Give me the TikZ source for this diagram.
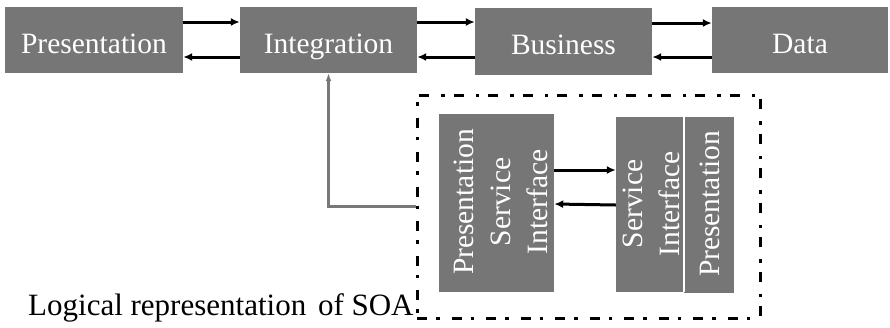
\documentclass[tikz,border=0pt]{standalone}
\usepackage{fontspec}
\setmainfont{Liberation Serif}[Ligatures=TeX]
\usepackage{graphicx}
\usetikzlibrary{arrows.meta}
\definecolor{boxgray}{RGB}{118,118,118}
\definecolor{linkgray}{RGB}{120,120,120}
% vertical multi-line label
\newcommand{\vstack}[1]{\rotatebox{90}{\begin{tabular}{@{}c@{}}#1\end{tabular}}}
\begin{document}
\begin{tikzpicture}[x=1pt,y=-1pt,
  labelfont/.style={font=\fontsize{29.5}{37}\selectfont},
  tier/.style={fill=boxgray, text=white, inner sep=0pt, labelfont},
  toptier/.style={tier, text height=30pt, text depth=4pt},
  vlabel/.style={text=white, inner sep=0pt, labelfont},
  flow/.style={line width=3pt, -{Latex[length=9pt,width=8pt]}},
  uplink/.style={draw=linkgray, line width=2.2pt, -{Latex[length=8pt,width=6pt]}},
  soabox/.style={draw, line width=3pt, dash pattern=on 10pt off 9pt on 3.5pt off 12pt}]
\useasboundingbox (0,0) rectangle (890,327);

% top row of tiers
\node[toptier, minimum width=178pt, minimum height=66pt] (pres)  at (94,40)    {Presentation};
\node[toptier, minimum width=177pt, minimum height=66pt] (integ) at (328.5,40) {Integration};
\node[toptier, minimum width=177pt, minimum height=67pt] (bus)   at (563.5,41) {Business};
\node[toptier, minimum width=176pt, minimum height=66pt] (data)  at (800,40)   {Data};

% request / response arrows between the tiers
\draw[flow] ([yshift=18pt]pres.east)  -- ([yshift=18pt]integ.west);
\draw[flow] ([yshift=-17pt]integ.west) -- ([yshift=-17pt]pres.east);
\draw[flow] ([yshift=18pt]integ.east) -- ([yshift=19pt]bus.west);
\draw[flow] ([yshift=-16pt]bus.west)  -- ([yshift=-17pt]integ.east);
\draw[flow] ([yshift=18pt]bus.east)   -- ([yshift=17pt]data.west);
\draw[flow] ([yshift=-17pt]data.west) -- ([yshift=-16pt]bus.east);

% SOA group
\node[soabox, minimum width=343pt, minimum height=223pt, inner sep=0pt] (soa) at (588.5,206.5) {};
\node[tier, minimum width=115pt, minimum height=178pt] (psi)   at (496.5,203) {};
\node[tier, minimum width=68pt,  minimum height=175pt] (si)    at (650,204.5) {};
\node[tier, minimum width=50pt,  minimum height=176pt] (spres) at (709,205)   {};
\draw[white, line width=1.5pt] (si.north east) -- (si.south east);

% rotated labels of the SOA boxes
\node[vlabel] (psi-label)   at (503,202)   {\vstack{Presentation\\Service\\Interface}};
\node[vlabel] (si-label)    at (653.5,204) {\vstack{Service\\Interface}};
\node[vlabel] (spres-label) at (712,204)   {\vstack{Presentation}};

\draw[flow] ([yshift=33pt]psi.east) -- ([yshift=34.5pt]si.west);
\draw[flow] ([yshift=-0.5pt]si.west) -- ([yshift=-1pt]psi.east);

% link from the SOA group up to the integration tier
\draw[uplink] (soa.west) -| (integ.south);

\node[font=\fontsize{31}{37}\selectfont, anchor=base west, inner sep=0pt] (caption) at (28,315)
  {Logical representation\hspace{4pt} of SOA};
\end{tikzpicture}
\end{document}
